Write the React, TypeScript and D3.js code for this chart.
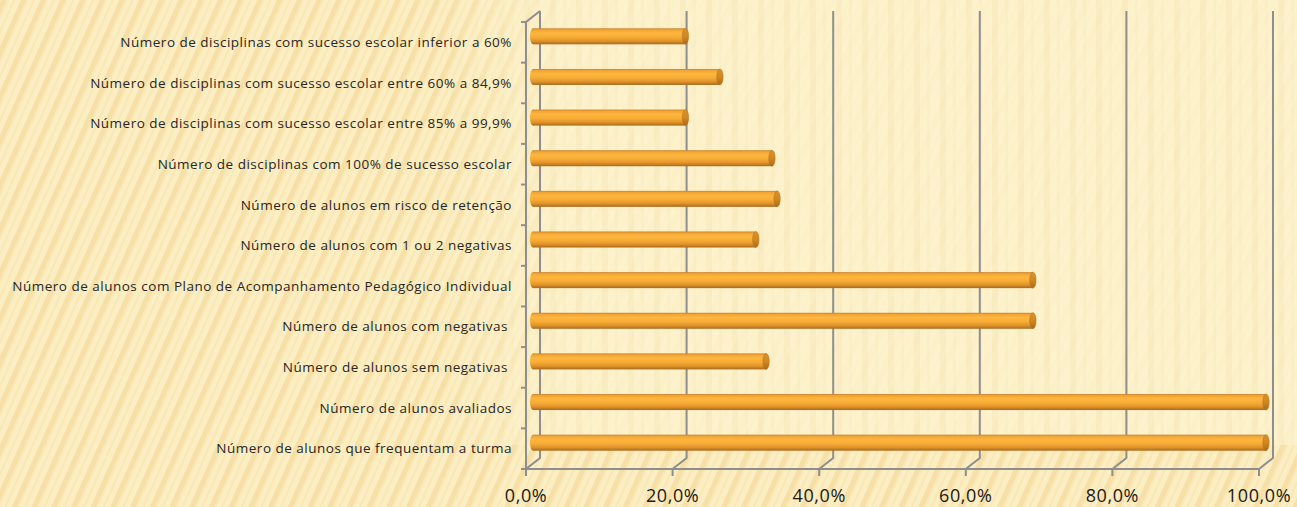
import React from "react";
import * as d3 from "d3";

const categories: string[] = [
  "Número de disciplinas com sucesso escolar inferior a 60%",
  "Número de disciplinas com sucesso escolar entre 60% a 84,9%",
  "Número de disciplinas com sucesso escolar entre 85% a 99,9%",
  "Número de disciplinas com 100% de sucesso escolar",
  "Número de alunos em risco de retenção",
  "Número de alunos com 1 ou 2 negativas",
  "Número de alunos com Plano de Acompanhamento Pedagógico Individual",
  "Número de alunos com negativas ",
  "Número de alunos sem negativas ",
  "Número de alunos avaliados",
  "Número de alunos que frequentam a turma",
];
const values: number[] = [0.208, 0.255, 0.208, 0.326, 0.333, 0.304, 0.682, 0.682, 0.318, 1.0, 1.0];
const tickValues: number[] = [0, 0.2, 0.4, 0.6, 0.8, 1.0];
const tickLabels: string[] = ["0,0%", "20,0%", "40,0%", "60,0%", "80,0%", "100,0%"];

const W = 1297;
const H = 507;
const DX = 14;
const DY = -11;

export default function App() {
  const x = d3.scaleLinear().domain([0, 1]).range([526, 1259]);
  const y = d3.scaleBand<string>().domain(categories).range([22, 469]).paddingInner(0).paddingOuter(0);
  const yTop = 22;
  const yBot = 469;
  const barH = 16;
  const boundaries = d3.range(categories.length + 1).map((i) => yTop + i * y.step());

  return (
    <svg width={W} height={H} style={{ position: "absolute", left: 0, top: 0 }} fontFamily="'Open Sans', sans-serif">
      <defs>
        <pattern id="diag" width="18" height="200" patternUnits="userSpaceOnUse" patternTransform="rotate(24)">
          <rect width="18" height="200" fill="#FCEEC3" />
          <rect x="1" width="5" height="200" fill="#F5DCA0" opacity="0.8" />
          <rect x="6" width="2" height="200" fill="#F9E6B4" opacity="0.7" />
          <rect x="12" width="2" height="200" fill="#F8E2AC" opacity="0.6" />
        </pattern>
        <pattern id="vert" width="26" height="40" patternUnits="userSpaceOnUse">
          <rect width="26" height="40" fill="#FDF2CE" />
          <rect x="4" width="6" height="40" fill="#F9EAC0" opacity="0.7" />
          <rect x="17" width="3" height="40" fill="#FAECC4" opacity="0.6" />
        </pattern>
        <linearGradient id="fadeGrad" x1="0" y1="0" x2="1" y2="0">
          <stop offset="0" stopColor="#fff" stopOpacity="0" />
          <stop offset="0.15" stopColor="#fff" stopOpacity="1" />
          <stop offset="1" stopColor="#fff" stopOpacity="1" />
        </linearGradient>
        <mask id="plotMask">
          <rect x="440" y="0" width={W - 440} height={H} fill="url(#fadeGrad)" />
        </mask>
        <linearGradient id="barGrad" x1="0" y1="0" x2="0" y2="1">
          <stop offset="0" stopColor="#C7812A" />
          <stop offset="0.1" stopColor="#F2A535" />
          <stop offset="0.3" stopColor="#FDB63E" />
          <stop offset="0.55" stopColor="#F8AC35" />
          <stop offset="0.8" stopColor="#E0922A" />
          <stop offset="1" stopColor="#A66A1C" />
        </linearGradient>
        <linearGradient id="capGrad" x1="0" y1="0" x2="0" y2="1">
          <stop offset="0" stopColor="#D8912C" />
          <stop offset="0.5" stopColor="#D08823" />
          <stop offset="1" stopColor="#A86B1C" />
        </linearGradient>
      </defs>

      <rect width={W} height={H} fill="url(#diag)" />
      <g mask="url(#plotMask)">
        <rect x="440" y="0" width={W - 440} height={445} fill="url(#vert)" opacity="0.85" />
      </g>

      {/* back wall gridlines with floor diagonals */}
      <g stroke="#8E8E8E" strokeWidth={2} fill="none">
        {tickValues.map((t, i) => (
          <path
            key={"g" + i}
            d={`M${x(t) + DX},${yTop + DY} L${x(t) + DX},${yBot + DY} L${x(t)},${yBot} L${x(t)},${yBot + 7}`}
          />
        ))}
        <path d={`M${x(0)},${yBot} L${x(1)},${yBot}`} />
        <path d={`M${x(0)},${yBot} L${x(0)},${yTop} L${x(0) + DX},${yTop + DY}`} />
        {boundaries.map((b, i) => (
          <path key={"t" + i} d={`M${x(0) - 5},${b} L${x(0)},${b}`} />
        ))}
      </g>

      {/* bars */}
      {categories.map((c, i) => {
        const yc = (y(c) as number) + y.bandwidth() / 2 + DY / 2 - 0.5;
        const x0 = x(0) + DX / 2;
        const x1 = x(values[i]) + DX / 2;
        return (
          <g key={"b" + i}>
            <ellipse cx={x0} cy={yc} rx={3} ry={barH / 2} fill="url(#barGrad)" />
            <rect x={x0} y={yc - barH / 2} width={x1 - x0} height={barH} fill="url(#barGrad)" />
            <ellipse cx={x1} cy={yc} rx={3.2} ry={barH / 2} fill="url(#capGrad)" stroke="#B07020" strokeWidth={0.5} />
          </g>
        );
      })}

      {/* category labels */}
      <g fontSize={13.5} fill="#262626" textAnchor="end" letterSpacing={0.5}>
        {categories.map((c, i) => (
          <text key={"l" + i} x={512} y={(y(c) as number) + y.bandwidth() / 2} dy="0.35em" style={{ whiteSpace: "pre" }}>
            {c}
          </text>
        ))}
      </g>

      {/* tick labels */}
      <g fontSize={18} fill="#1A1A1A" textAnchor="middle" letterSpacing={0.6}>
        {tickValues.map((t, i) => (
          <text key={"x" + i} x={x(t)} y={502}>
            {tickLabels[i]}
          </text>
        ))}
      </g>
    </svg>
  );
}
